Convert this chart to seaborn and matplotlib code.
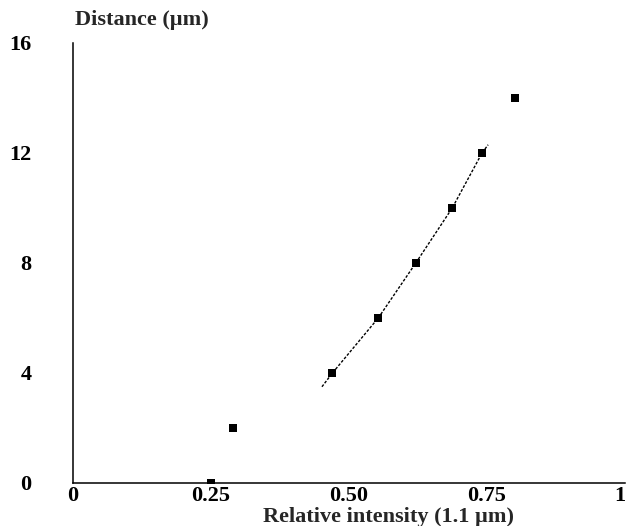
import matplotlib
matplotlib.use("Agg")
import matplotlib.pyplot as plt
import seaborn as sns
import pandas as pd

# Data
intensity = [0.25, 0.29, 0.47, 0.553, 0.621, 0.687, 0.741, 0.80]
distance = [0, 2, 4, 6, 8, 10, 12, 14]

# Fitted curve
curve_x = [0.451, 0.47, 0.553, 0.621, 0.687, 0.741, 0.752]
curve_y = [3.5, 4.0, 6.0, 8.0, 10.0, 12.0, 12.3]

x_ticks = [0, 0.25, 0.5, 0.75, 1]
x_tick_labels = ["0", "0.25", "0.50", "0.75", "1"]
y_ticks = [0, 4, 8, 12, 16]
y_tick_labels = ["0", "4", "8", "12", "16"]

sns.set_theme(style="white")
plt.rcParams["font.family"] = ["Liberation Serif", "DejaVu Serif"]
plt.rcParams["font.weight"] = "bold"

fig = plt.figure(figsize=(6.27, 5.26), dpi=100)
ax = fig.add_axes([73 / 627, 1 - 483 / 526, (625 - 73) / 627, 440 / 526])

pts = pd.DataFrame({"x": intensity, "y": distance})
crv = pd.DataFrame({"x": curve_x, "y": curve_y})

sns.lineplot(data=crv, x="x", y="y", ax=ax, sort=False, color="black",
             linewidth=1.0, linestyle=(0, (2.0, 1.2)))
sns.scatterplot(data=pts, x="x", y="y", ax=ax, marker="s", s=36,
                color="black", linewidth=0, zorder=3)

ax.set_xlim(0, 1)
ax.set_ylim(0, 16)
ax.set_xticks(x_ticks)
ax.set_xticklabels(x_tick_labels, fontsize=16, fontweight="bold")
ax.get_xticklabels()[-1].set_ha("right")
ax.set_yticks(y_ticks)
ax.set_yticklabels(y_tick_labels, fontsize=16, fontweight="bold")

for side in ["top", "right"]:
    ax.spines[side].set_visible(False)
for side in ["left", "bottom"]:
    ax.spines[side].set_linewidth(1.1)
    ax.spines[side].set_color("black")

ax.tick_params(axis="y", direction="out", length=4, width=1, pad=26, colors="black")
ax.tick_params(axis="x", direction="out", length=2, width=1, pad=0, colors="black")
ax.set_facecolor("white")

ax.set_xlabel("Relative intensity (1.1 µm)", fontsize=16, fontweight="bold")
ax.xaxis.set_label_coords(0.572, -0.078)
ax.xaxis.label.set_va("center")
ax.set_ylabel("Distance (µm)", fontsize=16, fontweight="bold", rotation=0)
ax.yaxis.set_label_coords(0.125, 1.052)
ax.yaxis.label.set_va("center")
ax.yaxis.label.set_ha("center")

fig.savefig("out.png", dpi=100, facecolor="white")
